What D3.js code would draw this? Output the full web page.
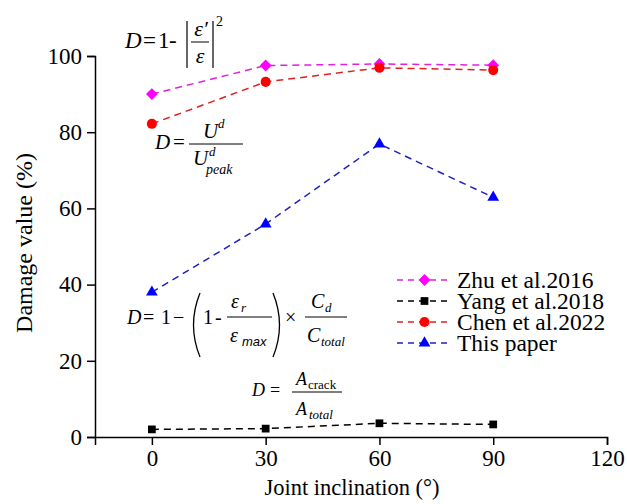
<!DOCTYPE html>
<html>
<head>
<meta charset="utf-8">
<script src="https://cdn.jsdelivr.net/npm/d3@7"></script>
<style>
  body { margin: 0; background: #fff; }
  svg text { font-family: "Liberation Serif", "Times New Roman", serif; }
</style>
</head>
<body>
<div id="chart"></div>
<script>
// data
var inclinations = [0, 30, 60, 90];
var zhuValues   = [90.0, 97.5, 97.9, 97.6];
var yangValues  = [2.0, 2.2, 3.6, 3.3];
var chenValues  = [82.2, 93.2, 96.9, 96.3];
var paperValues = [38.0, 55.9, 76.9, 62.9];
var seriesNames = ["Zhu et al.2016", "Yang et al.2018", "Chen et al.2022", "This paper"];
var xTicks = [0, 30, 60, 90, 120];
var yTicks = [0, 20, 40, 60, 80, 100];

var width = 627, height = 504;

var svg = d3.select("#chart")
  .append("svg")
  .attr("width", width)
  .attr("height", height);

// scales
var x = d3.scaleLinear().domain([-15, 120]).range([95, 607]);
var y = d3.scaleLinear().domain([0, 100]).range([437, 56]);

// series table built from the arrays above
// diamond = square turned 45 degrees (rot)
var series = [
  { name: seriesNames[0], values: zhuValues,   color: "#ff00ff", symbol: d3.symbolSquare,   size: 70, rot: 45 },
  { name: seriesNames[1], values: yangValues,  color: "#000000", symbol: d3.symbolSquare,   size: 60, rot: 0 },
  { name: seriesNames[2], values: chenValues,  color: "#ff0000", symbol: d3.symbolCircle,   size: 80, rot: 0 },
  { name: seriesNames[3], values: paperValues, color: "#0000ff", symbol: d3.symbolTriangle, size: 60, rot: 0 }
];
var lineColors = ["#e020e0", "#000000", "#e02020", "#2020c0"];

// axes
var xAxis = d3.axisBottom(x).tickValues(xTicks).tickSizeOuter(0).tickSize(8).tickPadding(5);
var yAxis = d3.axisLeft(y).tickValues(yTicks).tickSizeOuter(0).tickSize(8).tickPadding(5);

var gx = svg.append("g")
  .attr("transform", "translate(0," + y(0) + ")")
  .call(xAxis);
var gy = svg.append("g")
  .attr("transform", "translate(" + x(-15) + ",0)")
  .call(yAxis);

[gx, gy].forEach(function(g){
  g.selectAll("path, line").attr("stroke", "#000").attr("stroke-width", 1.5);
  g.selectAll("text")
    .attr("fill", "#000")
    .style("font-family", "'Liberation Serif', serif")
    .style("font-size", "23px");
});

// axis titles
svg.append("text")
  .attr("x", 352).attr("y", 495)
  .attr("text-anchor", "middle")
  .style("font-size", "22.5px")
  .text("Joint inclination (°)");

svg.append("text")
  .attr("transform", "translate(32,243) rotate(-90)")
  .attr("text-anchor", "middle")
  .style("font-size", "24px")
  .text("Damage value (%)");

// lines and markers
var line = d3.line()
  .x(function(d, i){ return x(inclinations[i]); })
  .y(function(d){ return y(d); });

series.forEach(function(s, k){
  svg.append("path")
    .datum(s.values)
    .attr("d", line)
    .attr("fill", "none")
    .attr("stroke", lineColors[k])
    .attr("stroke-width", 1.5)
    .attr("stroke-dasharray", "7,5");

  svg.selectAll(".m" + k)
    .data(s.values)
    .enter()
    .append("path")
    .attr("class", "m" + k)
    .attr("d", d3.symbol().type(s.symbol).size(s.size))
    .attr("transform", function(d, i){
      return "translate(" + x(inclinations[i]) + "," + y(d) + ") rotate(" + s.rot + ")";
    })
    .attr("fill", s.color);
});

// legend
var legend = svg.append("g").attr("transform", "translate(397,280)");
series.forEach(function(s, k){
  var row = legend.append("g").attr("transform", "translate(0," + (k * 21) + ")");
  row.append("line")
    .attr("x1", 0).attr("x2", 55)
    .attr("stroke", lineColors[k])
    .attr("stroke-width", 1.5)
    .attr("stroke-dasharray", "6,5");
  row.append("path")
    .attr("d", d3.symbol().type(s.symbol).size(s.size))
    .attr("transform", "translate(27.5,0) rotate(" + s.rot + ")")
    .attr("fill", s.color);
  row.append("text")
    .attr("x", 60).attr("y", 8)
    .style("font-size", "23.5px")
    .text(s.name);
});

// formula helpers
function txt(g, str, dx, dy, size, italic, anchor, family){
  var t = g.append("text")
    .attr("x", dx).attr("y", dy)
    .style("font-size", size + "px")
    .style("font-style", italic ? "italic" : "normal")
    .attr("text-anchor", anchor || "start")
    .text(str);
  if (family) t.style("font-family", family);
  return t;
}
function hbar(g, x1, x2, yy){
  g.append("line").attr("x1", x1).attr("x2", x2).attr("y1", yy).attr("y2", yy)
    .attr("stroke", "#000").attr("stroke-width", 1);
}

// D = 1 - |e'/e|^2
var f1 = svg.append("g").attr("transform", "translate(125,48)");
txt(f1, "D", 0, 0, 23, true);
txt(f1, "=", 18, 0, 23, false);
txt(f1, "1", 33, 0, 23, false);
txt(f1, "-", 44, 0, 23, false);
f1.append("line").attr("x1", 62).attr("x2", 62).attr("y1", -27).attr("y2", 20).attr("stroke", "#000").attr("stroke-width", 1.2);
f1.append("line").attr("x1", 88).attr("x2", 88).attr("y1", -27).attr("y2", 20).attr("stroke", "#000").attr("stroke-width", 1.2);
hbar(f1, 66, 84, -6);
txt(f1, "ε′", 76, -12, 22, true, "middle");
txt(f1, "ε", 75, 15, 22, true, "middle");
txt(f1, "2", 91, -22, 14, false);

// D = U^d / U^d_peak
var f2 = svg.append("g").attr("transform", "translate(155,149)");
txt(f2, "D", 0, 0, 21, true);
txt(f2, "=", 18, 0, 21, false);
hbar(f2, 34, 88, -5);
txt(f2, "U", 48, -11, 21, true);
txt(f2, "d", 63, -21, 13, true);
txt(f2, "U", 38, 16, 21, true);
txt(f2, "d", 54, 7, 13, true);
txt(f2, "peak", 51, 25, 14, true);

// D = 1 - (1 - er/emax) x Cd/Ctotal
var f3 = svg.append("g").attr("transform", "translate(127,324)");
txt(f3, "D", 0, 0, 20, true);
txt(f3, "=", 16, 0, 20, false);
txt(f3, "1", 34, 0, 20, false);
txt(f3, "−", 46, 0, 20, false);
f3.append("path").attr("d", "M73,-31 Q60,1 73,33").attr("fill", "none").attr("stroke", "#000").attr("stroke-width", 1.3);
txt(f3, "1", 76, 0, 20, false);
txt(f3, "-", 88, 0, 20, false);
hbar(f3, 100, 145, -7);
txt(f3, "ε", 104, -16, 20, true);
txt(f3, "r", 114, -12, 13, true);
txt(f3, "ε", 103, 18, 20, true);
txt(f3, "max", 115, 22, 13, true, "start", "'Liberation Sans', Arial, sans-serif");
f3.append("path").attr("d", "M146,-31 Q159,1 146,33").attr("fill", "none").attr("stroke", "#000").attr("stroke-width", 1.3);
txt(f3, "×", 158, 0, 20, false);
hbar(f3, 178, 220, -7);
txt(f3, "C", 184, -16, 20, true);
txt(f3, "d", 198, -12, 13, true);
txt(f3, "C", 180, 18, 20, true);
txt(f3, "total", 194, 22, 13, true);

// D = A_crack / A_total
var f4 = svg.append("g").attr("transform", "translate(252,396)");
txt(f4, "D", 0, 0, 18, true);
txt(f4, "=", 18, 0, 18, false);
hbar(f4, 40, 90, -4);
txt(f4, "A", 44, -11, 18, true);
txt(f4, "crack", 56, -7, 13, false);
txt(f4, "A", 44, 19, 18, true);
txt(f4, "total", 57, 23, 13, true);
</script>
</body>
</html>
